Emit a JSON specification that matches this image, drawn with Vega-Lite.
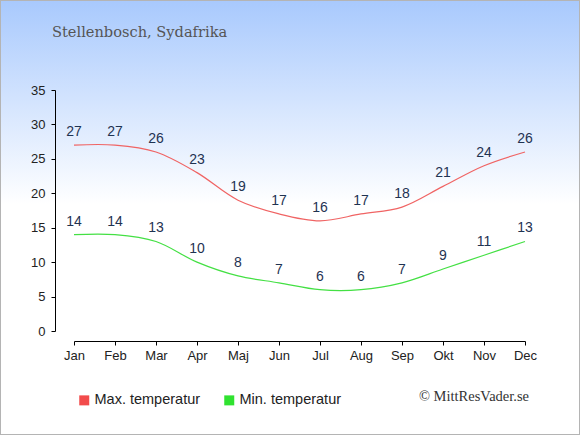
{
  "$schema": "https://vega.github.io/schema/vega-lite/v6.json",
  "width": 580,
  "height": 435,
  "padding": 0,
  "autosize": {"type": "none"},
  "background": "#ffffff",
  "config": {
    "view": {
      "stroke": "#b4b4b4",
      "strokeWidth": 2,
      "fill": {
        "gradient": "linear",
        "x1": 0, "y1": 0, "x2": 0, "y2": 1,
        "stops": [
          {"offset": 0, "color": "#a8c9fd"},
          {"offset": 0.47, "color": "#ffffff"},
          {"offset": 1, "color": "#ffffff"}
        ]
      }
    }
  },
  "title": {
    "text": "Stellenbosch, Sydafrika",
    "anchor": "start",
    "frame": "group",
    "offset": -40,
    "dx": 52,
    "font": "DejaVu Serif",
    "fontSize": 14.6,
    "fontWeight": "normal",
    "color": "#555555"
  },
  "data": {
    "values": [
      {"month": "Jan", "serie": "Max. temperatur", "value": 27},
      {"month": "Feb", "serie": "Max. temperatur", "value": 27},
      {"month": "Mar", "serie": "Max. temperatur", "value": 26},
      {"month": "Apr", "serie": "Max. temperatur", "value": 23},
      {"month": "Maj", "serie": "Max. temperatur", "value": 19},
      {"month": "Jun", "serie": "Max. temperatur", "value": 17},
      {"month": "Jul", "serie": "Max. temperatur", "value": 16},
      {"month": "Aug", "serie": "Max. temperatur", "value": 17},
      {"month": "Sep", "serie": "Max. temperatur", "value": 18},
      {"month": "Okt", "serie": "Max. temperatur", "value": 21},
      {"month": "Nov", "serie": "Max. temperatur", "value": 24},
      {"month": "Dec", "serie": "Max. temperatur", "value": 26},
      {"month": "Jan", "serie": "Min. temperatur", "value": 14},
      {"month": "Feb", "serie": "Min. temperatur", "value": 14},
      {"month": "Mar", "serie": "Min. temperatur", "value": 13},
      {"month": "Apr", "serie": "Min. temperatur", "value": 10},
      {"month": "Maj", "serie": "Min. temperatur", "value": 8},
      {"month": "Jun", "serie": "Min. temperatur", "value": 7},
      {"month": "Jul", "serie": "Min. temperatur", "value": 6},
      {"month": "Aug", "serie": "Min. temperatur", "value": 6},
      {"month": "Sep", "serie": "Min. temperatur", "value": 7},
      {"month": "Okt", "serie": "Min. temperatur", "value": 9},
      {"month": "Nov", "serie": "Min. temperatur", "value": 11},
      {"month": "Dec", "serie": "Min. temperatur", "value": 13}
    ]
  },
  "encoding": {
    "x": {
      "field": "month",
      "type": "ordinal",
      "sort": ["Jan","Feb","Mar","Apr","Maj","Jun","Jul","Aug","Sep","Okt","Nov","Dec"],
      "scale": {"type": "point", "range": [74, 525], "padding": 0},
      "axis": {
        "orient": "bottom",
        "offset": -94,
        "title": null,
        "labelAngle": 0,
        "labelFont": "Liberation Sans",
        "labelFontSize": 13,
        "labelColor": "#222222",
        "labelPadding": 4,
        "tickSize": 4,
        "tickColor": "#000000",
        "domainColor": "#000000",
        "grid": false
      }
    },
    "y": {
      "field": "value",
      "type": "quantitative",
      "scale": {"domain": [0, 35], "range": [331, 90], "nice": false, "zero": true},
      "axis": {
        "orient": "left",
        "offset": -55,
        "title": null,
        "values": [0, 5, 10, 15, 20, 25, 30, 35],
        "labelFont": "Liberation Sans",
        "labelFontSize": 13,
        "labelColor": "#222222",
        "labelPadding": 6,
        "tickSize": 4,
        "tickColor": "#000000",
        "domainColor": "#000000",
        "grid": false
      }
    }
  },
  "layer": [
    {
      "mark": {"type": "line", "interpolate": "catmull-rom", "strokeWidth": 1.2},
      "encoding": {
        "color": {
          "field": "serie",
          "type": "nominal",
          "scale": {"domain": ["Max. temperatur", "Min. temperatur"], "range": ["#f06464", "#44e044"]},
          "legend": {
            "title": null,
            "orient": "none",
            "direction": "horizontal",
            "legendX": 77,
            "legendY": 393,
            "padding": 0,
            "symbolType": "square",
            "symbolSize": 100,
            "symbolStrokeWidth": 0,
            "symbolOpacity": 1,
            "labelFont": "Liberation Sans",
            "labelFontSize": 14.5,
            "labelColor": "#222222",
            "labelOffset": 3,
            "columnPadding": 21,
            "encode": {
              "symbols": {
                "update": {
                  "fill": {"signal": "datum.value === 'Max. temperatur' ? '#f24b4b' : '#30e230'"},
                  "fillOpacity": {"value": 1},
                  "strokeWidth": {"value": 0}
                }
              }
            }
          }
        }
      }
    },
    {
      "mark": {"type": "text", "dy": -13, "font": "Liberation Sans", "fontSize": 14, "color": "#1f3352"},
      "encoding": {"text": {"field": "value", "type": "quantitative"}}
    },
    {
      "data": {"values": [{"month": "Dec", "value": -9.6, "label": "© MittResVader.se"}]},
      "mark": {"type": "text", "align": "right", "dx": 4, "font": "Liberation Serif", "fontSize": 14.5, "color": "#333333"},
      "encoding": {"text": {"field": "label", "type": "nominal"}}
    }
  ]
}
